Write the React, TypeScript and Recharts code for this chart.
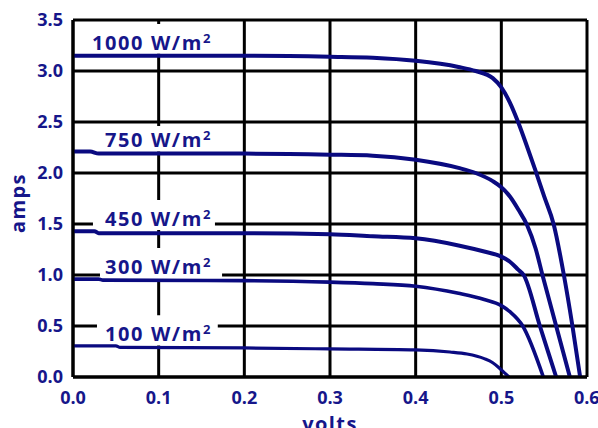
import { LineChart, Line, XAxis, YAxis, CartesianGrid, ReferenceArea } from "recharts";

const NAVY = "#0a0a80";
const TEXT = "#16168a";
const FONT = "'Open Sans', sans-serif";

const voltTicks = [0, 0.1, 0.2, 0.3, 0.4, 0.5, 0.6];
const ampTicks = [0, 0.5, 1, 1.5, 2, 2.5, 3, 3.5];

// I-V curves, one per irradiance level
const curve1000 = [
  { v: 0, i: 3.15 }, { v: 0.1, i: 3.15 }, { v: 0.2, i: 3.15 }, { v: 0.3, i: 3.14 },
  { v: 0.35, i: 3.13 }, { v: 0.4, i: 3.1 }, { v: 0.45, i: 3.04 }, { v: 0.47, i: 3.0 },
  { v: 0.49, i: 2.93 }, { v: 0.5, i: 2.84 }, { v: 0.51, i: 2.69 }, { v: 0.52, i: 2.49 },
  { v: 0.53, i: 2.26 }, { v: 0.54, i: 2.02 }, { v: 0.55, i: 1.77 }, { v: 0.561, i: 1.5 },
  { v: 0.573, i: 1.0 }, { v: 0.583, i: 0.5 }, { v: 0.592, i: 0 },
];
const curve750 = [
  { v: 0, i: 2.21 }, { v: 0.02, i: 2.21 }, { v: 0.03, i: 2.19 }, { v: 0.1, i: 2.19 },
  { v: 0.2, i: 2.19 }, { v: 0.3, i: 2.18 }, { v: 0.35, i: 2.17 }, { v: 0.4, i: 2.13 },
  { v: 0.45, i: 2.05 }, { v: 0.47, i: 2.0 }, { v: 0.49, i: 1.92 }, { v: 0.5, i: 1.86 },
  { v: 0.51, i: 1.77 }, { v: 0.52, i: 1.64 }, { v: 0.53, i: 1.49 }, { v: 0.54, i: 1.26 },
  { v: 0.548, i: 1.0 }, { v: 0.564, i: 0.5 }, { v: 0.58, i: 0 },
];
const curve450 = [
  { v: 0, i: 1.43 }, { v: 0.025, i: 1.43 }, { v: 0.03, i: 1.41 }, { v: 0.1, i: 1.41 },
  { v: 0.2, i: 1.41 }, { v: 0.3, i: 1.4 }, { v: 0.35, i: 1.38 }, { v: 0.4, i: 1.36 },
  { v: 0.45, i: 1.29 }, { v: 0.48, i: 1.23 }, { v: 0.5, i: 1.18 }, { v: 0.51, i: 1.13 },
  { v: 0.52, i: 1.05 }, { v: 0.526, i: 1.0 }, { v: 0.545, i: 0.5 }, { v: 0.564, i: 0 },
];
const curve300 = [
  { v: 0, i: 0.96 }, { v: 0.03, i: 0.96 }, { v: 0.035, i: 0.95 }, { v: 0.2, i: 0.945 },
  { v: 0.3, i: 0.93 }, { v: 0.35, i: 0.915 }, { v: 0.4, i: 0.89 }, { v: 0.45, i: 0.82 },
  { v: 0.48, i: 0.76 }, { v: 0.5, i: 0.7 }, { v: 0.51, i: 0.64 }, { v: 0.525, i: 0.5 },
  { v: 0.549, i: 0 },
];
const curve100 = [
  { v: 0, i: 0.305 }, { v: 0.05, i: 0.305 }, { v: 0.055, i: 0.29 }, { v: 0.2, i: 0.285 },
  { v: 0.3, i: 0.275 }, { v: 0.4, i: 0.265 }, { v: 0.44, i: 0.245 }, { v: 0.46, i: 0.225 },
  { v: 0.48, i: 0.18 }, { v: 0.49, i: 0.14 }, { v: 0.5, i: 0.07 }, { v: 0.509, i: 0 },
];

const levels = ["1000", "750", "450", "300", "100"];

function LevelLabel(props: any) {
  const { viewBox, text, dx, dy } = props;
  if (!viewBox) return null;
  return (
    <text x={viewBox.x + dx} y={viewBox.y + dy} fill={TEXT} fontFamily={FONT} fontWeight={700} fontSize={20} letterSpacing={1.6}>
      {text} W/m<tspan dy={-7} fontSize={13}>2</tspan>
    </text>
  );
}

function AxisTitle(props: any) {
  const { tx, ty, rot, text } = props;
  return (
    <text x={tx} y={ty} transform={rot ? `rotate(${rot} ${tx} ${ty})` : undefined} textAnchor="middle"
      fill={TEXT} fontFamily={FONT} fontWeight={700} fontSize={20} letterSpacing={1.4}>
      {text}
    </text>
  );
}

const tickStyle = { fill: TEXT, fontSize: 18, fontWeight: 700, fontFamily: FONT };

export default function App() {
  return (
    <div style={{ position: "absolute", left: 0, top: 0, width: 598, height: 428, background: "#fff" }}>
      <LineChart width={598} height={428} margin={{ top: 20, right: 11, bottom: 0, left: 0 }}>
        <CartesianGrid stroke="#000" strokeWidth={3} />
        <XAxis type="number" dataKey="v" domain={[0, 0.6]} ticks={voltTicks} tickFormatter={(v: number) => v.toFixed(1)}
          height={51} tickSize={0} tickMargin={14} tickLine={false} axisLine={{ stroke: "#000", strokeWidth: 3 }} tick={tickStyle}
          label={<AxisTitle tx={330} ty={431} text="volts" />} />
        <YAxis type="number" domain={[0, 3.5]} ticks={ampTicks} tickFormatter={(v: number) => v.toFixed(1)}
          width={73} tickSize={0} tickMargin={10} tickLine={false} axisLine={{ stroke: "#000", strokeWidth: 3 }} tick={tickStyle}
          label={<AxisTitle tx={25} ty={203} rot={-90} text="amps" />} />

        <ReferenceArea x1={0.0175} x2={0.1715} y1={3.17} y2={3.46} fill="#fff" fillOpacity={1} stroke="none" zIndex={50}
          label={<LevelLabel text={levels[0]} dx={4} dy={26} />} />
        <ReferenceArea x1={0.028} x2={0.169} y1={2.21} y2={2.46} fill="#fff" fillOpacity={1} stroke="none" zIndex={50}
          label={<LevelLabel text={levels[1]} dx={8} dy={21} />} />
        <ReferenceArea x1={0.0233} x2={0.1657} y1={1.44} y2={1.735} fill="#fff" fillOpacity={1} stroke="none" zIndex={50}
          label={<LevelLabel text={levels[2]} dx={12} dy={26} />} />
        <ReferenceArea x1={0.0315} x2={0.174} y1={0.95} y2={1.265} fill="#fff" fillOpacity={1} stroke="none" zIndex={50}
          label={<LevelLabel text={levels[3]} dx={5} dy={26} />} />
        <ReferenceArea x1={0.028} x2={0.169} y1={0.31} y2={0.605} fill="#fff" fillOpacity={1} stroke="none" zIndex={50}
          label={<LevelLabel text={levels[4]} dx={8} dy={26} />} />

        <Line data={curve1000} dataKey="i" type="monotone" stroke={NAVY} strokeWidth={4} dot={false} isAnimationActive={false} />
        <Line data={curve750} dataKey="i" type="monotone" stroke={NAVY} strokeWidth={4} dot={false} isAnimationActive={false} />
        <Line data={curve450} dataKey="i" type="monotone" stroke={NAVY} strokeWidth={4} dot={false} isAnimationActive={false} />
        <Line data={curve300} dataKey="i" type="monotone" stroke={NAVY} strokeWidth={3.6} dot={false} isAnimationActive={false} />
        <Line data={curve100} dataKey="i" type="monotone" stroke={NAVY} strokeWidth={3.2} dot={false} isAnimationActive={false} />
      </LineChart>
    </div>
  );
}
